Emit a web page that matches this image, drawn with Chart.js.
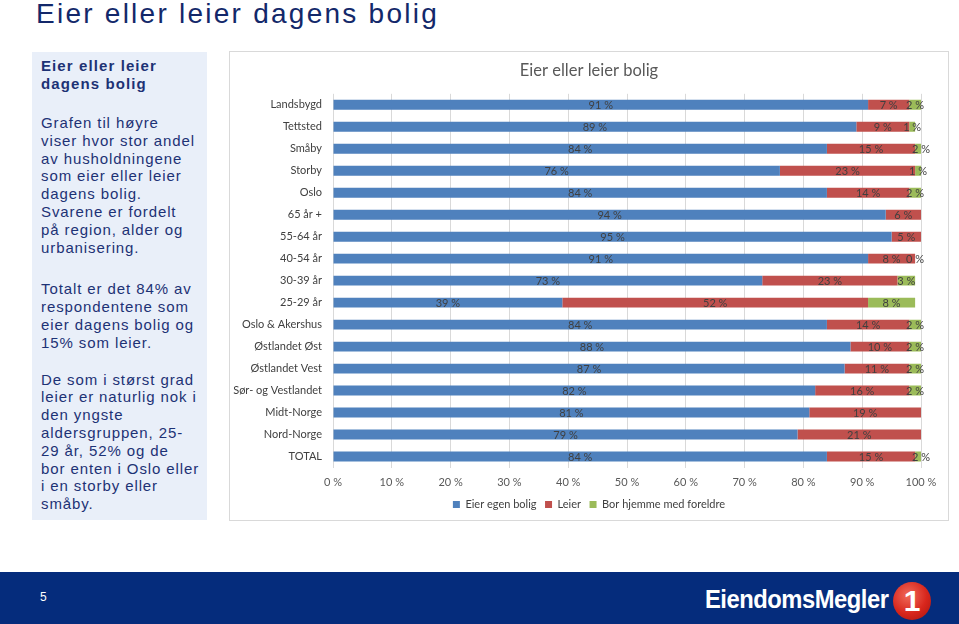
<!DOCTYPE html>
<html lang="no">
<head>
    <meta charset="UTF-8">
    <title>Eier eller leier dagens bolig</title>
    <script src="https://cdn.jsdelivr.net/npm/chart.js"></script>
    <style>
        body {
            margin: 0;
            width: 959px;
            height: 624px;
            position: relative;
            overflow: hidden;
            background: #ffffff;
            font-family: 'Liberation Sans', Arial, sans-serif;
        }
        .page-title {
            position: absolute;
            left: 36px;
            top: -2px;
            font-size: 28px;
            letter-spacing: 2.25px;
            color: #13286a;
            white-space: nowrap;
        }
        .side-panel {
            position: absolute;
            left: 32px;
            top: 52px;
            width: 175px;
            height: 468px;
            background: #e9eff9;
            color: #1d3275;
            font-size: 15px;
            line-height: 17.8px;
            letter-spacing: 0.9px;
            white-space: nowrap;
        }
        .side-panel .inner { padding: 5px 0 0 9px; }
        .side-panel h3 {
            margin: 0 0 21px 0;
            font-size: 15px;
            line-height: 18px;
            letter-spacing: 1.1px;
        }
        .side-panel p { margin: 0 0 24px 0; }
        .side-panel p.p2 { margin-bottom: 19px; }
        .chart-box {
            position: absolute;
            left: 229px;
            top: 51px;
            width: 718px;
            height: 468px;
            border: 1px solid #d9d9d9;
            background: #ffffff;
        }
        .footer {
            position: absolute;
            left: 0;
            top: 572px;
            width: 959px;
            height: 52px;
            background: #052c7c;
        }
        .footer .pageno {
            position: absolute;
            left: 40px;
            top: 18px;
            color: #ffffff;
            font-size: 12px;
        }
        .logo-text {
            position: absolute;
            left: 705px;
            top: 13px;
            color: #ffffff;
            font-size: 25px;
            font-weight: bold;
            letter-spacing: -0.5px;
            transform: scaleX(0.95);
            transform-origin: left center;
            white-space: nowrap;
        }
        .logo-one {
            position: absolute;
            left: 893px;
            top: 10px;
            width: 38px;
            height: 38px;
            border-radius: 50%;
            background: radial-gradient(circle at 40% 35%, #f06a5a 0%, #d8261c 55%, #a5140e 100%);
            color: #ffffff;
            font-weight: bold;
            font-size: 30px;
            line-height: 38px;
            text-align: center;
        }
    </style>
</head>
<body>

    <div class="page-title">Eier eller leier dagens bolig</div>

    <div class="side-panel">
        <div class="inner">
            <h3>Eier eller leier<br>dagens bolig</h3>
            <p>Grafen til høyre<br>viser hvor stor andel<br>av husholdningene<br>som eier eller leier<br>dagens bolig.<br>Svarene er fordelt<br>på region, alder og<br>urbanisering.</p>
            <p class="p2">Totalt er det 84% av<br>respondentene som<br>eier dagens bolig og<br>15% som leier.</p>
            <p>De som i størst grad<br>leier er naturlig nok i<br>den yngste<br>aldersgruppen, 25-<br>29 år, 52% og de<br>bor enten i Oslo eller<br>i en storby eller<br>småby.</p>
        </div>
    </div>

    <div class="chart-box">
        <canvas id="chartBolig" width="718" height="468"></canvas>
    </div>

    <div class="footer">
        <div class="pageno">5</div>
        <div class="logo-text">EiendomsMegler</div>
        <div class="logo-one">1</div>
    </div>

    <script>
        // --- Daten (Prozent) ---
        const kategorier = ['Landsbygd', 'Tettsted', 'Småby', 'Storby', 'Oslo', '65 år +', '55-64 år', '40-54 år',
            '30-39 år', '25-29 år', 'Oslo & Akershus', 'Østlandet Øst', 'Østlandet Vest', 'Sør- og Vestlandet',
            'Midt-Norge', 'Nord-Norge', 'TOTAL'];
        const eierEgenBolig = [91, 89, 84, 76, 84, 94, 95, 91, 73, 39, 84, 88, 87, 82, 81, 79, 84];
        const leier = [7, 9, 15, 23, 14, 6, 5, 8, 23, 52, 14, 10, 11, 16, 19, 21, 15];
        const borHjemme = [2, 1, 2, 1, 2, null, null, 0, 3, 8, 2, 2, 2, 2, null, null, 2];
        const xTicks = ['0 %', '10 %', '20 %', '30 %', '40 %', '50 %', '60 %', '70 %', '80 %', '90 %', '100 %'];

        const chartFont = 'Lato, "Open Sans", sans-serif';

        // Wert-Beschriftung mitten im Segment
        const segmentLabels = {
            id: 'segmentLabels',
            afterDatasetsDraw(chart) {
                const ctx = chart.ctx;
                ctx.save();
                ctx.font = '11px ' + chartFont;
                ctx.fillStyle = '#404040';
                ctx.textAlign = 'center';
                ctx.textBaseline = 'middle';
                chart.data.datasets.forEach((ds, i) => {
                    chart.getDatasetMeta(i).data.forEach((bar, j) => {
                        const v = ds.data[j];
                        if (v === null || v === undefined) return;
                        const p = bar.getCenterPoint();
                        ctx.fillText(v + ' %', p.x, p.y + 1);
                    });
                });
                ctx.restore();
            }
        };

        new Chart(document.getElementById('chartBolig'), {
            type: 'bar',
            data: {
                labels: kategorier,
                datasets: [
                    { label: 'Eier egen bolig', data: eierEgenBolig, backgroundColor: '#4f81bd' },
                    { label: 'Leier', data: leier, backgroundColor: '#c0504d' },
                    { label: 'Bor hjemme med foreldre', data: borHjemme, backgroundColor: '#9bbb59' }
                ]
            },
            options: {
                indexAxis: 'y',
                responsive: false,
                animation: false,
                barPercentage: 0.45,
                categoryPercentage: 1.0,
                layout: { padding: 0 },
                scales: {
                    x: {
                        stacked: true,
                        min: 0,
                        max: 100,
                        border: { display: false },
                        grid: { color: '#d9d9d9', drawTicks: false },
                        ticks: {
                            stepSize: 10,
                            padding: 8,
                            color: '#595959',
                            font: { family: chartFont, size: 11 },
                            callback: (v, i) => xTicks[i]
                        },
                        afterFit(scale) { scale.height = 23; }
                    },
                    y: {
                        stacked: true,
                        border: { display: false },
                        grid: { display: false },
                        ticks: {
                            padding: 3,
                            color: '#404040',
                            font: { family: chartFont, size: 11 }
                        },
                        afterFit(scale) { scale.width = 103; }
                    },
                    // leere Achse rechts, damit Titel und Legende mittig im Kasten stehen
                    yRight: {
                        type: 'category',
                        labels: kategorier,
                        position: 'right',
                        border: { display: false },
                        grid: { display: false },
                        ticks: { display: false },
                        afterFit(scale) { scale.width = 27; }
                    }
                },
                plugins: {
                    title: {
                        display: true,
                        text: 'Eier eller leier bolig',
                        color: '#595959',
                        font: { family: chartFont, size: 16.5, weight: 'normal' },
                        padding: { top: 9, bottom: 13 }
                    },
                    legend: {
                        position: 'bottom',
                        labels: {
                            boxWidth: 7,
                            boxHeight: 7,
                            padding: 8.5,
                            color: '#404040',
                            font: { family: chartFont, size: 11 }
                        }
                    },
                    tooltip: { enabled: false }
                }
            },
            plugins: [segmentLabels]
        });
    </script>

</body>
</html>
